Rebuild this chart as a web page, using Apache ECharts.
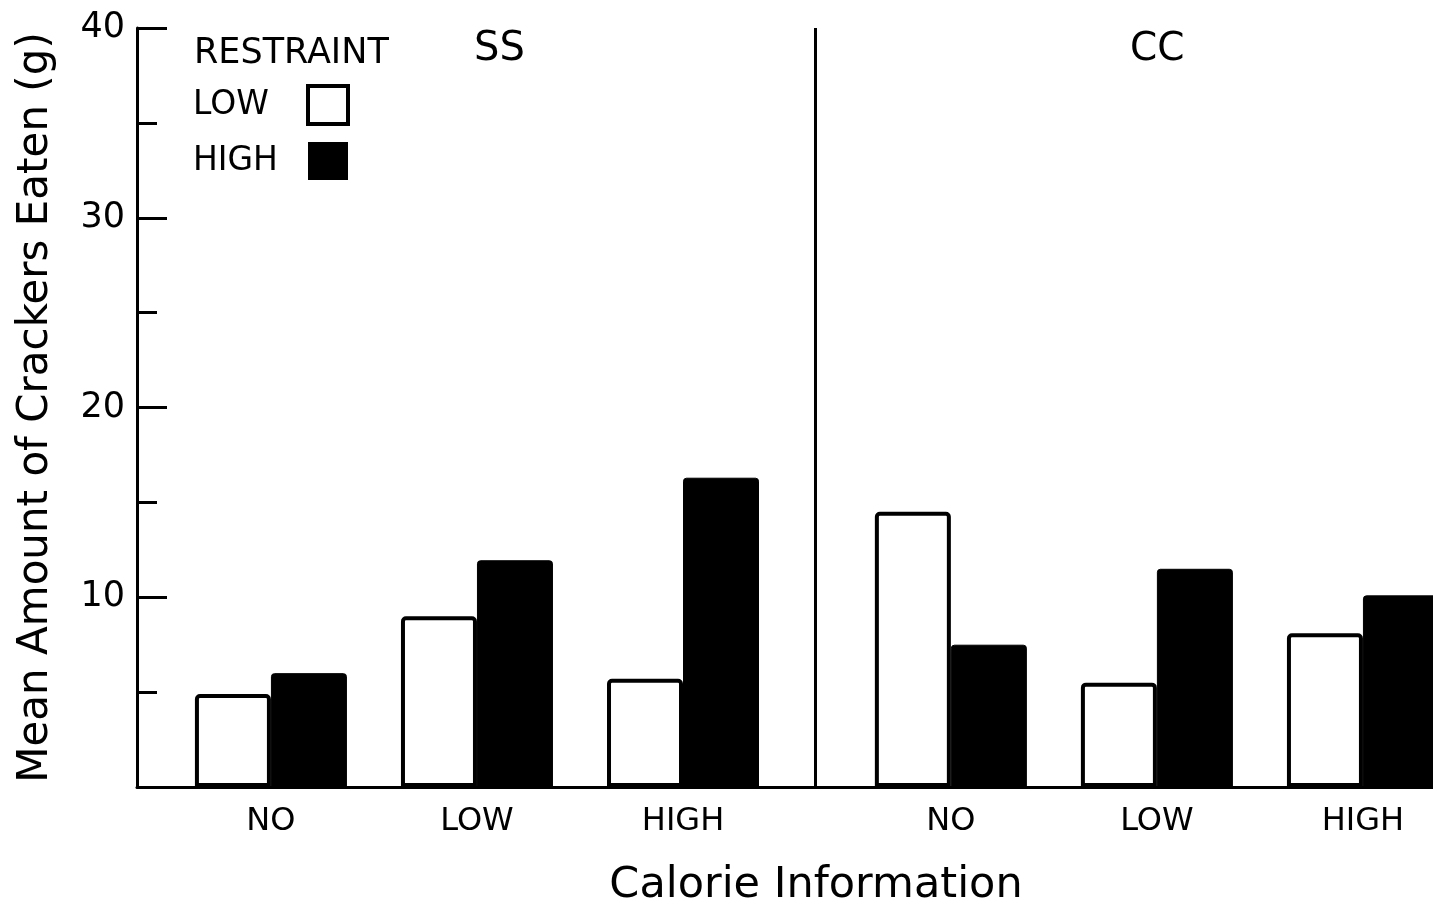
<!DOCTYPE html>
<html>
<head>
<meta charset="utf-8">
<script src="https://cdn.jsdelivr.net/npm/echarts@6/dist/echarts.min.js"></script>
<style>
  html, body { margin: 0; padding: 0; background: #fff; }
  #chart { width: 1433px; height: 906px; }
</style>
</head>
<body>
<div id="chart"></div>
<script>
// ---- data ----
const groupLabels = ['NO', 'LOW', 'HIGH', 'NO', 'LOW', 'HIGH'];
const groupPositions = [1, 2, 3, 4.3, 5.3, 6.3];   // SS groups 1-3, CC groups 4.3-6.3
const lowRestraint  = [4.9, 9.0, 5.7, 14.5, 5.5, 8.1];
const highRestraint = [6.0, 11.95, 16.3, 7.5, 11.5, 10.1];
const panelNames = ['SS', 'CC'];
const dividerAt = 3.64;
const yTicks = [0, 10, 20, 30, 40];

const FONT = 'DejaVu Sans';
const chart = echarts.init(document.getElementById('chart'), null, { renderer: 'canvas' });

const lowData = groupPositions.map((p, i) => [p, lowRestraint[i]]);
const highData = groupPositions.map((p, i) => [p, highRestraint[i]]);

const option = {
  backgroundColor: '#ffffff',
  animation: false,
  title: [
    { text: 'RESTRAINT', left: 189, top: 31, textStyle: { fontFamily: FONT, fontSize: 35, fontWeight: 'normal', color: '#000' } },
    { text: panelNames[0], left: 469, top: 25, textStyle: { fontFamily: FONT, fontSize: 40, fontWeight: 'normal', color: '#000' } },
    { text: panelNames[1], left: 1125, top: 25, textStyle: { fontFamily: FONT, fontSize: 39, fontWeight: 'normal', color: '#000' } }
  ],
  legend: {
    orient: 'vertical',
    left: 188,
    top: 79,
    align: 'right',
    itemWidth: 40,
    itemHeight: 38,
    itemGap: 16,
    data: [
      { name: 'LOW', icon: 'rect', itemStyle: { color: '#fff', borderColor: '#000', borderWidth: 4 } },
      { name: 'HIGH', icon: 'rect', itemStyle: { color: '#000', borderColor: '#000', borderWidth: 0 } }
    ],
    formatter: '{a|{name}}',
    textStyle: {
      fontFamily: FONT, fontSize: 33, color: '#000',
      rich: { a: { fontFamily: FONT, fontSize: 33, width: 110, align: 'left', color: '#000' } }
    }
  },
  grid: { left: 137, right: 0, top: 28, bottom: 119, containLabel: false, outerBoundsMode: 'none' },
  xAxis: {
    type: 'value',
    min: 0.35,
    max: 6.64,
    name: 'Calorie Information',
    nameLocation: 'middle',
    nameGap: 77,
    nameTextStyle: { fontFamily: FONT, fontSize: 43, color: '#000', padding: [0, 0, 0, 62] },
    axisLine: { show: true, lineStyle: { color: '#000', width: 3 } },
    axisTick: { show: false },
    splitLine: { show: false },
    axisLabel: {
      customValues: groupPositions,
      formatter: function (v) {
        const i = groupPositions.findIndex(p => Math.abs(p - v) < 1e-6);
        return i >= 0 ? groupLabels[i] : '';
      },
      margin: 19,
      fontFamily: FONT, fontSize: 32, color: '#000'
    }
  },
  yAxis: {
    type: 'value',
    min: yTicks[0],
    max: yTicks[yTicks.length - 1],
    interval: 10,
    name: 'Mean Amount of Crackers Eaten (g)',
    nameLocation: 'middle',
    nameGap: 80,
    nameTextStyle: { fontFamily: FONT, fontSize: 42, color: '#000' },
    axisLine: { show: true, lineStyle: { color: '#000', width: 3 } },
    axisTick: { show: true, inside: true, length: 30, lineStyle: { color: '#000', width: 3 } },
    minorTick: { show: true, splitNumber: 2, length: 20, lineStyle: { color: '#000', width: 3 } },
    splitLine: { show: false },
    minorSplitLine: { show: false },
    axisLabel: {
      formatter: v => (v === 0 ? '' : String(v)),
      margin: 12,
      fontFamily: FONT, fontSize: 35, color: '#000'
    }
  },
  series: [
    {
      name: 'LOW',
      type: 'bar',
      data: lowData,
      barWidth: 76,
      barGap: '0%',
      itemStyle: { color: '#fff', borderColor: '#000', borderWidth: 4, borderRadius: [3, 3, 0, 0] }
    },
    {
      name: 'HIGH',
      type: 'bar',
      data: highData,
      barWidth: 76,
      barGap: '0%',
      itemStyle: { color: '#000', borderColor: '#000', borderWidth: 1, borderRadius: [3, 3, 0, 0] }
    },
    {
      name: 'divider',
      type: 'line',
      data: [],
      silent: true,
      markLine: {
        silent: true,
        symbol: 'none',
        label: { show: false },
        lineStyle: { color: '#000', width: 3, type: 'solid' },
        data: [{ xAxis: dividerAt }]
      }
    }
  ]
};
chart.setOption(option);
</script>
</body>
</html>
